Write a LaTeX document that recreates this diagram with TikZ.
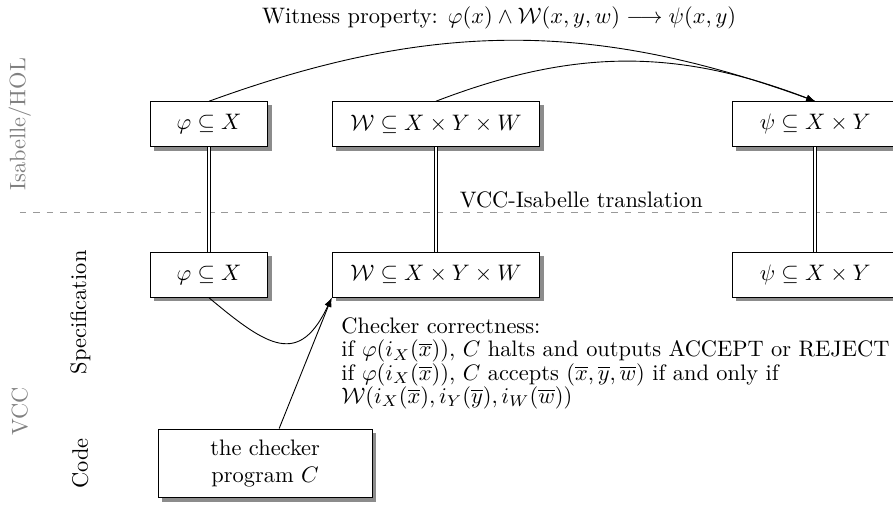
\documentclass[tikz,border=0pt]{standalone}
\usepackage{amsmath}
\usepackage{amssymb}
\usepackage{tikz}
\usetikzlibrary{arrows.meta,shadows}

\begin{document}
\begin{tikzpicture}
            \tikzstyle{box}=[draw,fill=white,minimum height=0.71cm,drop shadow={shadow xshift=0.6mm,shadow yshift=-0.6mm,opacity=1,fill=black!45}];
            \tikzstyle{layer}=[rotate=90,text=black!50];
            \tikzstyle{part}=[rotate=90];
            \tikzstyle{refine}=[double,double distance=1pt];
            \useasboundingbox (0,0) rectangle (14.01,-7.91);
            \node (title) at (7.83,-0.28) {Witness property: $\varphi(x)\wedge\mathcal{W}(x,y,w)\longrightarrow\psi(x,y)$};
            \node[layer] (isa) at (0.31,-1.95) {Isabelle/HOL};
            \node[layer] (vcc) at (0.31,-6.45) {VCC};
            \node[part] (spec) at (1.26,-4.9) {Specification};
            \node[part] (code) at (1.26,-7.27) {Code};
            \draw[dashed,black!40] (0.31,-3.34) -- (14.01,-3.34);
            \node (trans) at (9.12,-3.14) {VCC-Isabelle translation};
            \node[box,minimum width=1.84cm] (phi1) at (3.28,-1.95) {$\varphi\subseteq X$};
            \node[box,minimum width=3.26cm] (w1) at (6.84,-1.95) {$\mathcal{W}\subseteq X\times Y\times W$};
            \node[box,minimum width=2.6cm] (psi1) at (12.79,-1.95) {$\psi\subseteq X\times Y$};
            \node[box,minimum width=1.84cm] (phi2) at (3.28,-4.31) {$\varphi\subseteq X$};
            \node[box,minimum width=3.26cm] (w2) at (6.84,-4.31) {$\mathcal{W}\subseteq X\times Y\times W$};
            \node[box,minimum width=2.6cm] (psi2) at (12.79,-4.31) {$\psi\subseteq X\times Y$};
            \node[box,minimum width=3.36cm,minimum height=1.08cm,align=center] (checker) at (4.16,-7.27) {the checker\\program $C$};
            \node[anchor=north west,align=left,inner sep=0pt] (correct) at (5.35,-4.98) {Checker correctness:\\[-1.6pt]
                if $\varphi(i_X(\overline{x}))$, $C$ halts and outputs ACCEPT or REJECT\\[-1.6pt]
                if $\varphi(i_X(\overline{x}))$, $C$ accepts $(\overline{x},\overline{y},\overline{w})$ if and only if\\[-1.6pt]
                $\mathcal{W}(i_X(\overline{x}),i_Y(\overline{y}),i_W(\overline{w}))$};
            \path[draw] [-latex] (phi1.north) to[bend left=20] (psi1.north);
            \path[draw] [-latex] (w1.north) to[bend left=21] (psi1.north);
            \path[draw] [refine] (phi1) -- (phi2);
            \path[draw] [refine] (w1) -- (w2);
            \path[draw] [refine] (psi1) -- (psi2);
            \path[draw] [-latex] (phi2.south) to[out=-40,in=-115,looseness=1.6] (w2.south west);
            \path[draw] [-latex] (checker) -- (w2.south west);
        \end{tikzpicture}
\end{document}
